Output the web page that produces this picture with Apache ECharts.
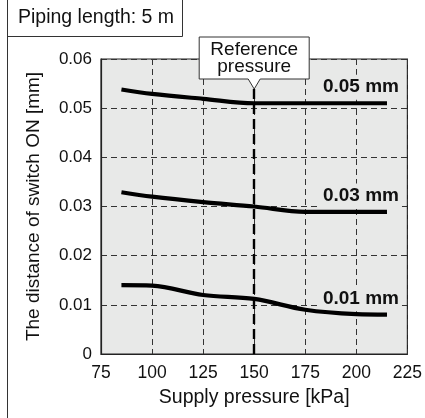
<!DOCTYPE html>
<html><head><meta charset="utf-8">
<script src="https://cdn.jsdelivr.net/npm/echarts@6/dist/echarts.min.js"></script>
<style>html,body{margin:0;padding:0;background:#fff}#c{width:425px;height:418px}</style>
</head><body><div id="c"></div>
<script>
const pressure = [85, 100, 125, 150, 175, 200, 215];
const dist005 = [0.0538, 0.0529, 0.0519, 0.0510, 0.0510, 0.0510, 0.0510];
const dist003 = [0.0329, 0.0320, 0.0309, 0.0300, 0.0289, 0.0289, 0.0289];
const dist001 = [0.0140, 0.0139, 0.0120, 0.0112, 0.0090, 0.0081, 0.0080];
const curveNames = ['0.05 mm', '0.03 mm', '0.01 mm'];
const xTicks = [75, 100, 125, 150, 175, 200, 225];
const yTicks = [0, 0.01, 0.02, 0.03, 0.04, 0.05, 0.06];
const refPressure = 150;

const FONT = 'Liberation Sans, Arial, sans-serif';
const chart = echarts.init(document.getElementById('c'));

function mkSeries(name, vals) {
  const n = pressure.length - 1;
  return {
    name, type: 'line', smooth: 0.35, symbol: 'none',
    data: pressure.map((p, i) => [p, vals[i]]),
    lineStyle: { color: '#000', width: 4.2, cap: 'butt' },
    z: 5,
    markPoint: {
      symbol: 'circle', symbolSize: 0, silent: true,
      data: [{ coord: [pressure[n], vals[n]] }],
      label: {
        show: true, formatter: name, position: 'inside', align: 'right', verticalAlign: 'middle',
        offset: [15, -16], fontFamily: FONT, fontWeight: 'bold', fontSize: 19, color: '#111',
        backgroundColor: '#e8e9e8', padding: [2, 3, 4, 3]
      }
    }
  };
}

const series = [mkSeries(curveNames[0], dist005), mkSeries(curveNames[1], dist003), mkSeries(curveNames[2], dist001)];
series[0].markLine = {
  symbol: 'none', silent: true, label: { show: false },
  lineStyle: { color: '#000', width: 2.4, type: [10, 5] },
  data: [[{ coord: [refPressure, yTicks[yTicks.length - 1]] }, { coord: [refPressure, yTicks[0]] }]]
};

chart.setOption({
  animation: false,
  grid: { left: 101, right: 9, top: 59, bottom: 64, show: true, backgroundColor: '#e8e9e8', borderColor: '#222', borderWidth: 1.2 },
  xAxis: {
    type: 'value', min: xTicks[0], max: xTicks[xTicks.length - 1], interval: 25,
    name: 'Supply pressure [kPa]', nameLocation: 'middle', nameGap: 34,
    nameTextStyle: { fontFamily: FONT, fontSize: 19.5, color: '#111' },
    axisLine: { show: true, lineStyle: { color: '#222', width: 1.2 } },
    axisTick: { show: false },
    axisLabel: { fontFamily: FONT, fontSize: 17.5, color: '#111', margin: 10 },
    splitLine: { show: true, lineStyle: { color: '#333', width: 1, type: [6, 4] } }
  },
  yAxis: {
    type: 'value', min: yTicks[0], max: yTicks[yTicks.length - 1], interval: 0.01,
    name: 'The distance of switch ON [mm]', nameLocation: 'middle', nameGap: 58,
    nameTextStyle: { fontFamily: FONT, fontSize: 19, color: '#111' },
    axisLine: { show: true, lineStyle: { color: '#222', width: 1.2 } },
    axisTick: { show: false },
    axisLabel: { fontFamily: FONT, fontSize: 17, color: '#111', margin: 9,
      formatter: v => v === 0 ? '0' : v.toFixed(2) },
    splitLine: { show: true, lineStyle: { color: '#333', width: 1, type: [6, 4] } }
  },
  series
});

const tip = chart.convertToPixel({ xAxisIndex: 0, yAxisIndex: 0 }, [refPressure, yTicks[yTicks.length - 1]]);
const cx = tip[0], ty = tip[1];
const bx0 = cx - 55, bx1 = cx + 55, by0 = ty - 22, by1 = ty + 20;
chart.setOption({
  graphic: [
    { type: 'line', shape: { x1: 7.5, y1: 0, x2: 7.5, y2: 418 }, style: { stroke: '#333', lineWidth: 1 } },
    { type: 'polyline', shape: { points: [[7.5, 36.5], [182.5, 36.5], [182.5, 0]] }, style: { stroke: '#333', lineWidth: 1, fill: null } },
    { type: 'text', left: 18, top: 8, style: { text: 'Piping length: 5 m', fontFamily: FONT, fontSize: 19.5, fill: '#111' } },
    { type: 'polygon', z: 100,
      shape: { points: [[bx0, by0], [bx1, by0], [bx1, by1], [cx + 6, by1], [cx, by1 + 10], [cx - 6, by1], [bx0, by1]] },
      style: { fill: '#fff', stroke: '#333', lineWidth: 1 } },
    { type: 'text', z: 101, x: cx, y: by0 + 21, style: { text: 'Reference\npressure', fontFamily: FONT, fontSize: 19, lineHeight: 17, fill: '#111', align: 'center', verticalAlign: 'middle' } }
  ]
});
</script></body></html>
